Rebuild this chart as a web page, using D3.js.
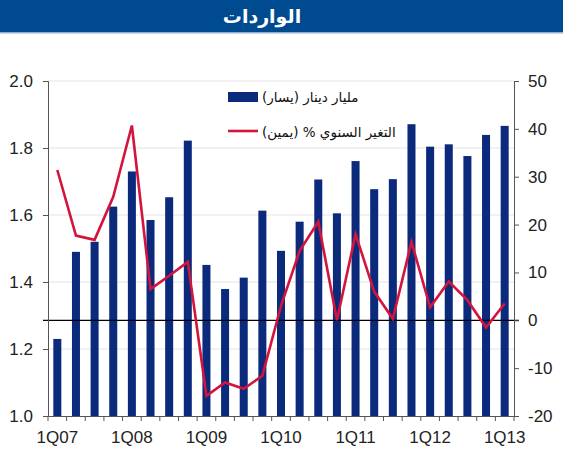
<!DOCTYPE html>
<html><head><meta charset="utf-8">
<script src="https://cdn.jsdelivr.net/npm/d3@7"></script>
<style>html,body{margin:0;padding:0;background:#fff;}svg{display:block;}</style>
</head><body>
<svg id="c" width="563" height="450"></svg>
<script>
const title = "الواردات";
const quarters = ["1Q07","2Q07","3Q07","4Q07","1Q08","2Q08","3Q08","4Q08","1Q09","2Q09","3Q09","4Q09","1Q10","2Q10","3Q10","4Q10","1Q11","2Q11","3Q11","4Q11","1Q12","2Q12","3Q12","4Q12","1Q13"];
const importsBn = [1.23,1.49,1.52,1.625,1.73,1.585,1.653,1.822,1.451,1.379,1.413,1.613,1.493,1.58,1.706,1.605,1.761,1.677,1.707,1.871,1.804,1.811,1.776,1.839,1.866];
const yoyPct = [31.4,17.7,16.8,25.8,40.7,6.5,9.3,12.2,-15.8,-13,-14.3,-11.6,3,14.5,20.6,0,18,6,0.3,16.4,2.7,8.1,4.2,-1.5,3.5];
const xLabels = ["1Q07","1Q08","1Q09","1Q10","1Q11","1Q12","1Q13"];
const leftTicks = [1.0,1.2,1.4,1.6,1.8,2.0];
const rightTicks = [-20,-10,0,10,20,30,40,50];
const legendBar = "مليار دينار (يسار)";
const legendLine = "التغير السنوي % (يمين)";

const svg = d3.select("#c");
const L = 48, R = 514, T = 81, B = 416;
const font = "'Liberation Sans', Arial, 'DejaVu Sans', sans-serif";

// title bar
svg.append("rect").attr("x",0).attr("y",0).attr("width",563).attr("height",33).attr("fill","#004a8f");
svg.append("rect").attr("x",0).attr("y",32).attr("width",563).attr("height",1.5).attr("fill","#8fb0d3");
svg.append("text").attr("x",262).attr("y",23).attr("text-anchor","middle")
  .attr("fill","#fff").attr("font-weight","bold").attr("font-size",19)
  .attr("font-family","'DejaVu Sans', sans-serif").attr("direction","rtl").text(title);

const x = d3.scaleBand().domain(quarters).range([L,R]).paddingInner(0.57).paddingOuter(0.285);
const xb = d3.scaleBand().domain(quarters).range([L,R]);
const yL = d3.scaleLinear().domain([1.0,2.0]).range([B,T]);
const yR = d3.scaleLinear().domain([-20,50]).range([B,T]);

// gridlines
svg.append("g").selectAll("line").data(leftTicks.filter(d=>d>1.0)).join("line")
  .attr("x1",L).attr("x2",R).attr("y1",d=>yL(d)).attr("y2",d=>yL(d))
  .attr("stroke","#e3e3e3").attr("stroke-width",1);

// bars
svg.append("g").selectAll("rect").data(quarters).join("rect")
  .attr("x",d=>x(d)).attr("width",x.bandwidth())
  .attr("y",(d,i)=>yL(importsBn[i])).attr("height",(d,i)=>B-yL(importsBn[i]))
  .attr("fill","#0b2a7c");

// zero line
svg.append("line").attr("x1",43).attr("x2",519).attr("y1",yR(0)).attr("y2",yR(0))
  .attr("stroke","#000").attr("stroke-width",1.3);

// line
const line = d3.line().x((d,i)=>xb(quarters[i])+xb.bandwidth()/2).y(d=>yR(d));
svg.append("path").datum(yoyPct).attr("d",line).attr("fill","none")
  .attr("stroke","#d3143c").attr("stroke-width",2.6).attr("stroke-linejoin","miter");

// axes
const axL = svg.append("g").attr("transform",`translate(${L},0)`)
  .call(d3.axisLeft(yL).tickValues(leftTicks).tickFormat(d3.format(".1f")).tickSize(5).tickPadding(10));
const axR = svg.append("g").attr("transform",`translate(${R},0)`)
  .call(d3.axisRight(yR).tickValues(rightTicks).tickSize(5).tickPadding(9));
const axB = svg.append("g").attr("transform",`translate(0,${B})`)
  .call(d3.axisBottom(xb).tickValues([]).tickSize(0));
// bottom ticks at band boundaries
svg.append("g").selectAll("line").data(quarters.concat(["end"])).join("line")
  .attr("x1",(d,i)=>L+i*xb.step()).attr("x2",(d,i)=>L+i*xb.step())
  .attr("y1",B).attr("y2",B+5).attr("stroke","#555").attr("stroke-width",1);
svg.append("g").selectAll("text").data(xLabels).join("text")
  .attr("x",d=>xb(d)+xb.bandwidth()/2).attr("y",B+27).attr("text-anchor","middle")
  .attr("font-size",17).attr("font-family",font).attr("fill","#222").text(d=>d);

[axL,axR,axB].forEach(a=>{
  a.select(".domain").attr("stroke","#555");
  a.selectAll(".tick line").attr("stroke","#555");
  a.selectAll(".tick text").attr("font-size",17).attr("font-family",font).attr("fill","#222");
});
axR.selectAll(".tick text").text(d=>d);

// legend
svg.append("rect").attr("x",228).attr("y",92).attr("width",30).attr("height",10).attr("fill","#0b2a7c");
svg.append("text").attr("x",262).attr("y",102).attr("direction","rtl").attr("text-anchor","end")
  .attr("font-size",13.5).attr("font-family","'DejaVu Sans', sans-serif").attr("fill","#111").text(legendBar);
svg.append("line").attr("x1",228).attr("x2",258).attr("y1",131).attr("y2",131)
  .attr("stroke","#d3143c").attr("stroke-width",2.6);
svg.append("text").attr("x",262).attr("y",137).attr("direction","rtl").attr("text-anchor","end")
  .attr("font-size",13.5).attr("font-family","'DejaVu Sans', sans-serif").attr("fill","#111").text(legendLine);
</script>
</body></html>
